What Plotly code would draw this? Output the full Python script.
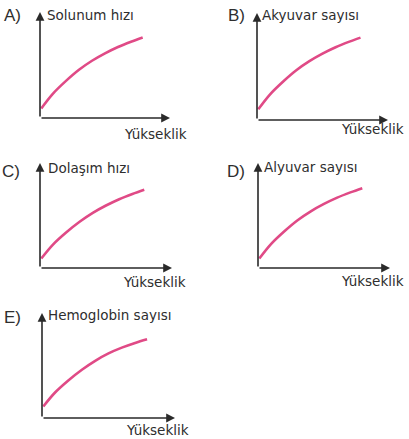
import plotly.graph_objects as go

W, H = 409, 439

# Data (arbitrary units, axes span 0-100)
panel_letters = ["A)", "B)", "C)", "D)", "E)"]
y_titles = ["Solunum hızı", "Akyuvar sayısı", "Dolaşım hızı", "Alyuvar sayısı", "Hemoglobin sayısı"]
x_title = "Yükseklik"

yukseklik = [1, 10, 20, 30, 40, 50, 60, 70, 79]
solunum_hizi = [9, 23, 35, 45.5, 54, 61, 67, 72, 76]
akyuvar_sayisi = [10, 24, 36, 46.5, 55, 62, 68, 73, 77]
dolasim_hizi = [9, 22.5, 34, 44, 52.5, 59.5, 65.5, 70.5, 74.5]
alyuvar_sayisi = [9, 23, 35, 45.5, 54, 61, 67, 72, 76]
hemoglobin_sayisi = [11, 24.5, 36, 46, 54.5, 61.5, 67, 71.5, 75]
series = [solunum_hizi, akyuvar_sayisi, dolasim_hizi, alyuvar_sayisi, hemoglobin_sayisi]

# Layout in pixels: (origin x, origin y, x-axis end, y-axis top)
boxes = [
    (40, 118, 170, 12),
    (257, 120, 388, 13),
    (40, 268, 172, 163),
    (258, 268, 390, 163),
    (42, 418, 175, 313),
]
letter_pos = [(23, 16), (247, 16), (22, 171), (247, 171), (23, 317)]   # right edge, middle
ytitle_pos = [(45, 15), (260, 15), (46, 168), (262, 167), (46, 315)]   # left edge, middle
xtitle_pos = [(189, 134), (406, 129), (188, 282), (406, 281), (191, 430)]  # right edge, middle

CURVE = "#e04a86"
AXC = "#2a2a2a"
TXT = "#2e2e2e"
FONT = "DejaVu Sans, Verdana, sans-serif"
LFONT = "Liberation Sans, Arial, sans-serif"

def px(x):
    return x / W

def py(y):
    return (H - y) / H

fig = go.Figure()
annotations = []
layout_axes = {}

for i, (vals, (ox, oy, xe, yt)) in enumerate(zip(series, boxes)):
    n = "" if i == 0 else str(i + 1)
    xa, ya = "x" + n, "y" + n
    fig.add_trace(go.Scatter(
        x=yukseklik, y=vals, mode="lines", xaxis=xa, yaxis=ya,
        line=dict(color=CURVE, width=2.6, shape="spline", smoothing=1.0),
        showlegend=False, hoverinfo="skip",
    ))
    common = dict(showgrid=False, zeroline=False, showticklabels=False,
                  showline=False, ticks="", fixedrange=True)
    layout_axes["xaxis" + n] = dict(domain=[px(ox), px(xe)], range=[0, 100],
                                   anchor=ya, **common)
    layout_axes["yaxis" + n] = dict(domain=[py(oy), py(yt)], range=[0, 100],
                                   anchor=xa, **common)
    # axes with arrows
    for hx, hy in ((100, 0), (0, 100)):
        annotations.append(dict(x=hx, y=hy, ax=0, ay=0, xref=xa, yref=ya, axref=xa, ayref=ya,
                                text="", showarrow=True, arrowhead=2, arrowsize=1.1,
                                arrowwidth=1.6, arrowcolor=AXC, standoff=0))
    lx, ly = letter_pos[i]
    annotations.append(dict(x=px(lx), y=py(ly), xref="paper", yref="paper",
                            text=panel_letters[i], showarrow=False, xanchor="right",
                            yanchor="middle", font=dict(family=LFONT, size=17, color=TXT)))
    tx, ty = ytitle_pos[i]
    annotations.append(dict(x=px(tx), y=py(ty), xref="paper", yref="paper",
                            text=y_titles[i], showarrow=False, xanchor="left",
                            yanchor="middle", font=dict(family=FONT, size=13.5, color=TXT)))
    kx, ky = xtitle_pos[i]
    annotations.append(dict(x=px(kx), y=py(ky), xref="paper", yref="paper",
                            text=x_title, showarrow=False, xanchor="right",
                            yanchor="middle", font=dict(family=FONT, size=13.5, color=TXT)))

fig.update_layout(
    width=W, height=H, margin=dict(l=0, r=0, t=0, b=0),
    paper_bgcolor="white", plot_bgcolor="white",
    annotations=annotations, **layout_axes,
)

fig.write_html("out.html", config={"displayModeBar": False},
               post_script="document.body.style.margin='0';document.body.style.overflow='hidden';")
